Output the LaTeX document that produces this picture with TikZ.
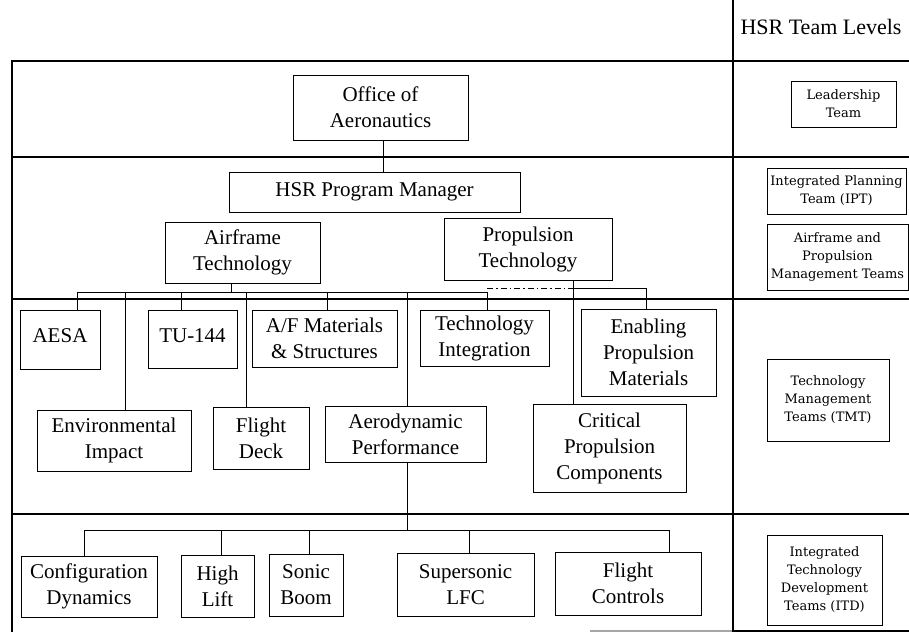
\documentclass[tikz,border=0pt]{standalone}
\usepackage{fontspec}
\setmainfont{Liberation Serif}
\newfontfamily\teamfont{DejaVu Serif}
\usepackage{tikz}
\tikzset{
  font={\fontsize{21pt}{26pt}\selectfont},
  orgbox/.style={draw, line width=0.8pt, align=center, inner sep=0pt},
  teambox/.style={draw, line width=0.8pt, align=center, inner sep=0pt,
    font={\teamfont\fontsize{13pt}{18pt}\selectfont}},
  levelline/.style={line width=2.6pt},
  link/.style={line width=0.8pt}}

\begin{document}
\begin{tikzpicture}[x=1pt, y=-1pt]
\useasboundingbox (0,0) rectangle (909,632);
%% The thick lines split the chart into the four team levels; the right strip holds the level names.
    \draw[levelline, black!35] (590,631) -- (733,631);
    \draw[levelline] (909,61) -| (12,632);
    \draw[levelline] (12,157) -- (909,157);
    \draw[levelline] (12,299) -- (909,299);
    \draw[levelline] (12,514) -- (909,514);
    \draw[levelline] (733,0) -- (733,632);
    \draw[levelline] (733,631) -- (909,631);
    \node[font={\fontsize{22pt}{26pt}\selectfont}] (levels) at (821,27) {HSR Team Levels};
%% Top of the tree
    \node[orgbox, minimum width=175pt, minimum height=65pt] (office) at (380.5,107.5) {Office of\\Aeronautics};
    \node[orgbox, minimum width=291pt, minimum height=40pt] (hsrpm) at (374.5,192) {HSR Program Manager};
    \node[orgbox, minimum width=155pt, minimum height=61pt] (airframe) at (242.5,252.5) {Airframe\\Technology};
    \node[orgbox, minimum width=168pt, minimum height=62pt] (propulsion) at (528,249) {Propulsion\\Technology};
%% Technology management teams
    \node[orgbox, minimum width=80pt, minimum height=59pt] (aesa) at (60,339.5) {\raisebox{7pt}{AESA}};
    \node[orgbox, minimum width=89pt, minimum height=58pt] (tu144) at (192.5,339) {\raisebox{7pt}{TU-144}};
    \node[orgbox, minimum width=145pt, minimum height=57pt] (afmat) at (324.5,338.5) {A/F Materials\\\& Structures};
    \node[orgbox, minimum width=129pt, minimum height=56pt] (techint) at (484.5,338) {Technology\\Integration};
    \node[orgbox, minimum width=135pt, minimum height=87pt] (enabling) at (648.5,352.5) {Enabling\\Propulsion\\Materials};
    \node[orgbox, minimum width=154pt, minimum height=61pt] (environ) at (114,440.5) {Environmental\\Impact};
    \node[orgbox, minimum width=96pt, minimum height=62pt] (flightdeck) at (261,438) {Flight\\Deck};
    \node[orgbox, minimum width=161pt, minimum height=56pt] (aero) at (405.5,434) {Aerodynamic\\Performance};
    \node[orgbox, minimum width=153pt, minimum height=88pt] (critical) at (609.5,448) {Critical\\Propulsion\\Components};
%% Development teams under Aerodynamic Performance
    \node[orgbox, minimum width=136pt, minimum height=61pt] (config) at (89,586.5) {Configuration\\Dynamics};
    \node[orgbox, minimum width=73pt, minimum height=62pt] (highlift) at (217.5,586) {High\\Lift};
    \node[orgbox, minimum width=74pt, minimum height=62pt] (sonic) at (306,585) {Sonic\\Boom};
    \node[orgbox, minimum width=137pt, minimum height=63pt] (lfc) at (465.5,584.5) {Supersonic\\LFC};
    \node[orgbox, minimum width=146pt, minimum height=63pt] (flightctl) at (628,583.5) {Flight\\Controls};
%% Level names
    \node[teambox, minimum width=105pt, minimum height=46pt] (leader) at (843.5,104) {Leadership\\Team};
    \node[teambox, minimum width=139pt, minimum height=46pt] (ipt) at (836.5,191) {Integrated Planning\\Team (IPT)};
    \node[teambox, minimum width=141pt, minimum height=66pt] (apmt) at (837.5,257) {Airframe and\\Propulsion\\Management Teams};
    \node[teambox, minimum width=122pt, minimum height=82pt] (tmt) at (828,400) {Technology\\Management\\Teams (TMT)};
    \node[teambox, minimum width=115pt, minimum height=90pt] (itd) at (824.5,580) {Integrated\\Technology\\Development\\Teams (ITD)};
%% Connectors
    \draw[link] (383,0 |- office.south) -- (383,0 |- hsrpm.north);
    \draw[link] (231,0 |- airframe.south) -- (231,292);
    \draw[link] (77,292) -- (487,292);
    \foreach \xx/\nd in {77/aesa, 125/environ, 181/tu144, 246/flightdeck, 327/afmat, 407/aero, 487/techint}
      \draw[link] (\xx,292) -- (\xx,0 |- \nd.north);
    \draw[link] (573,0 |- propulsion.south) -- (573,0 |- critical.north);
    \draw[link] (573,288) -- (646,288) -- (646,0 |- enabling.north);
    \draw[link, dash pattern=on 6pt off 3pt on 1.5pt off 3pt] (487,288.5) -- (573,288.5);
    \draw[link] (407,0 |- aero.south) -- (407,530);
    \draw[link] (84,530) -- (669,530);
    \foreach \xx/\nd in {84/config, 221/highlift, 309/sonic, 469/lfc, 669/flightctl}
      \draw[link] (\xx,530) -- (\xx,0 |- \nd.north);
\end{tikzpicture}
\end{document}
